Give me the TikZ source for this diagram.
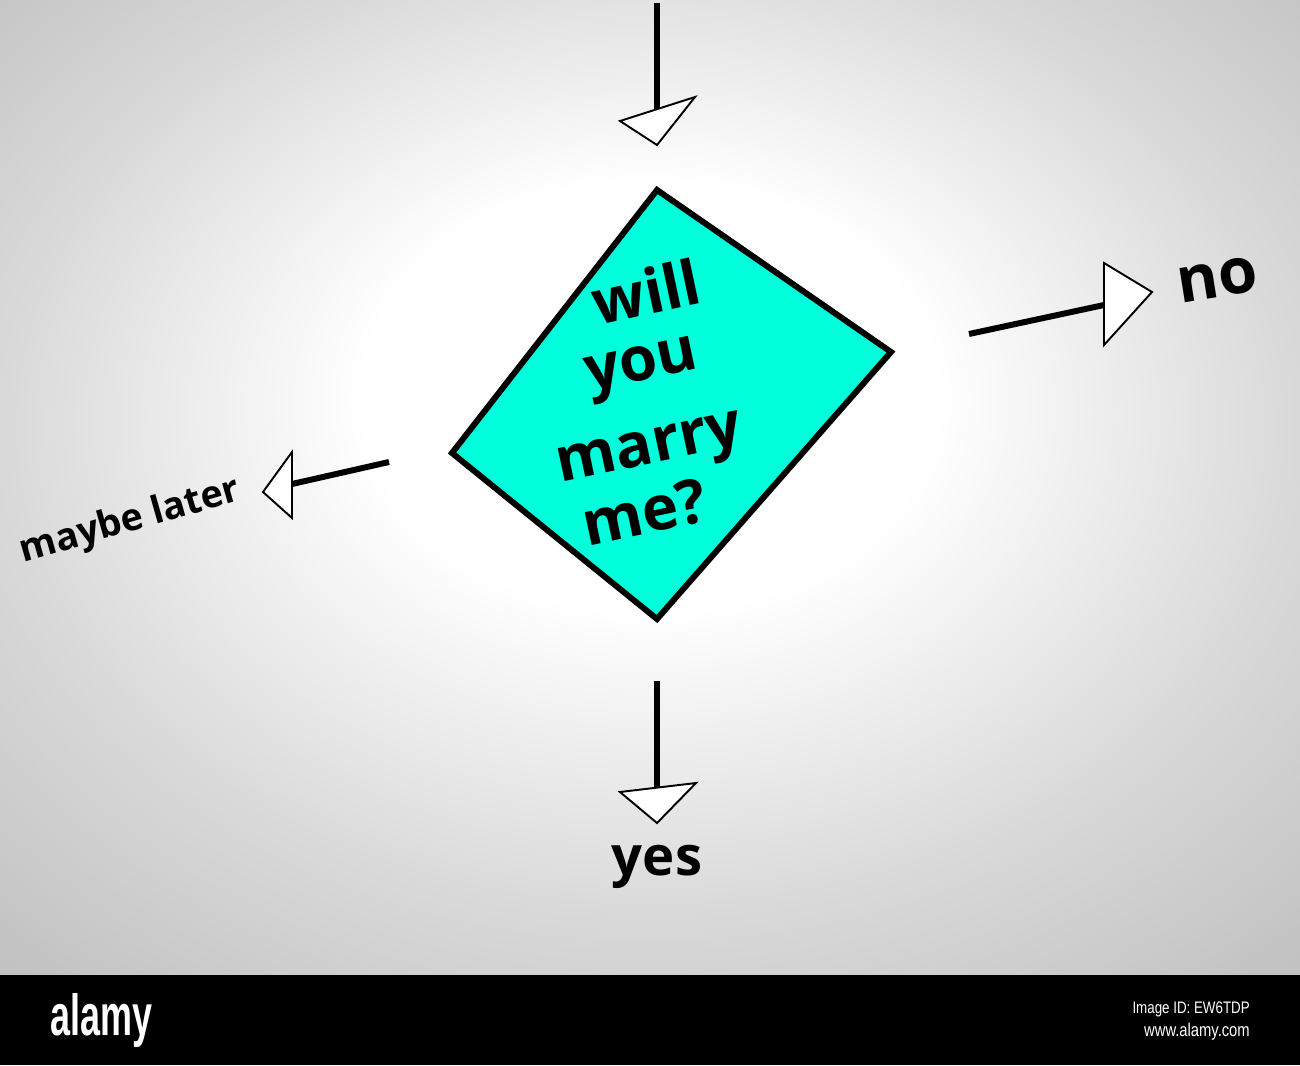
\documentclass[tikz,border=0pt]{standalone}
\usepackage{fontspec}
\setmainfont{Open Sans}
\newfontfamily\barfont{Liberation Sans}
\pgfdeclareradialshading{bgshade}{\pgfpoint{0bp}{6bp}}{color(0bp)=(white); color(11bp)=(white); color(25bp)=(black!15); color(36bp)=(black!24); color(50bp)=(black!27)}
\definecolor{diafill}{RGB}{0,255,218}
\begin{document}
\begin{tikzpicture}[x=0.02cm,y=-0.02cm,
  shaft/.style={line width=3.4pt},
  tip/.style={draw=black, fill=white, line width=1.1pt, line join=miter},
  bigtxt/.style={font=\bfseries\fontsize{35}{35}\selectfont, inner sep=0pt, anchor=base},
  lbltxt/.style={font=\bfseries\fontsize{36}{36}\selectfont, inner sep=0pt, anchor=base},
  smalltxt/.style={font=\bfseries\fontsize{21.5}{21.5}\selectfont, inner sep=0pt, anchor=base},
  bartxt/.style={text=white, inner sep=0pt}]
\useasboundingbox (0,0) rectangle (1300,1065);
% background
\path[shading=bgshade] (0,0) rectangle (1300,975);
\fill[black] (0,975) rectangle (1300,1065);
% diamond
\coordinate (dT) at (657,190);
\coordinate (dR) at (891,352);
\coordinate (dB) at (657,619);
\coordinate (dL) at (452,453);
\filldraw[fill=diafill, draw=black, line width=3.4pt, line join=miter] (dT) -- (dR) -- (dB) -- (dL) -- cycle;
\node[bigtxt, rotate=12] (q1) at (651,314) {will};
\node[bigtxt, rotate=12] (q2) at (645,380) {you};
\node[bigtxt, rotate=12] (q3) at (653,463) {marry};
\node[bigtxt, rotate=12] (q4) at (649,533) {me?};
% top arrow
\coordinate (inS) at (657,3);
\coordinate (inE) at (657,109);
\draw[shaft] (inS) -- (inE);
\draw[tip] (620,121) -- (695,97) -- (657,145) -- cycle;
% right arrow (no)
\coordinate (noS) at (969,334);
\coordinate (noE) at (1104,305);
\draw[shaft] (noS) -- (noE);
\draw[tip] (1104,263) -- (1152,292) -- (1104,345) -- cycle;
\node[lbltxt, rotate=9] (no) at (1220,297) {no};
% left arrow (maybe later)
\coordinate (mlS) at (389,462);
\coordinate (mlE) at (292,484);
\draw[shaft] (mlS) -- (mlE);
\draw[tip] (292,452) -- (263,492) -- (292,518) -- cycle;
\node[smalltxt, rotate=16] (ml) at (133,531) {maybe later};
% bottom arrow (yes)
\coordinate (yS) at (657,681);
\coordinate (yE) at (657,789);
\draw[shaft] (yS) -- (yE);
\draw[tip] (620,792) -- (696,783) -- (657,823) -- cycle;
\node[lbltxt, font=\bfseries\fontsize{31}{31}\selectfont] (yes) at (657,875) {yes};
% bottom bar text
\node[bartxt, font=\barfont\bfseries\fontsize{33}{33}\selectfont, xscale=0.62, anchor=base west] (brand) at (50,1035) {alamy};
\node[bartxt, font=\barfont\fontsize{9.5}{9.5}\selectfont, xscale=0.8, anchor=base east] (imgid) at (1250,1013) {Image ID: EW6TDP};
\node[bartxt, font=\barfont\fontsize{10.5}{10.5}\selectfont, xscale=0.8, anchor=base east] (www) at (1250,1036) {www.alamy.com};
\end{tikzpicture}
\end{document}
